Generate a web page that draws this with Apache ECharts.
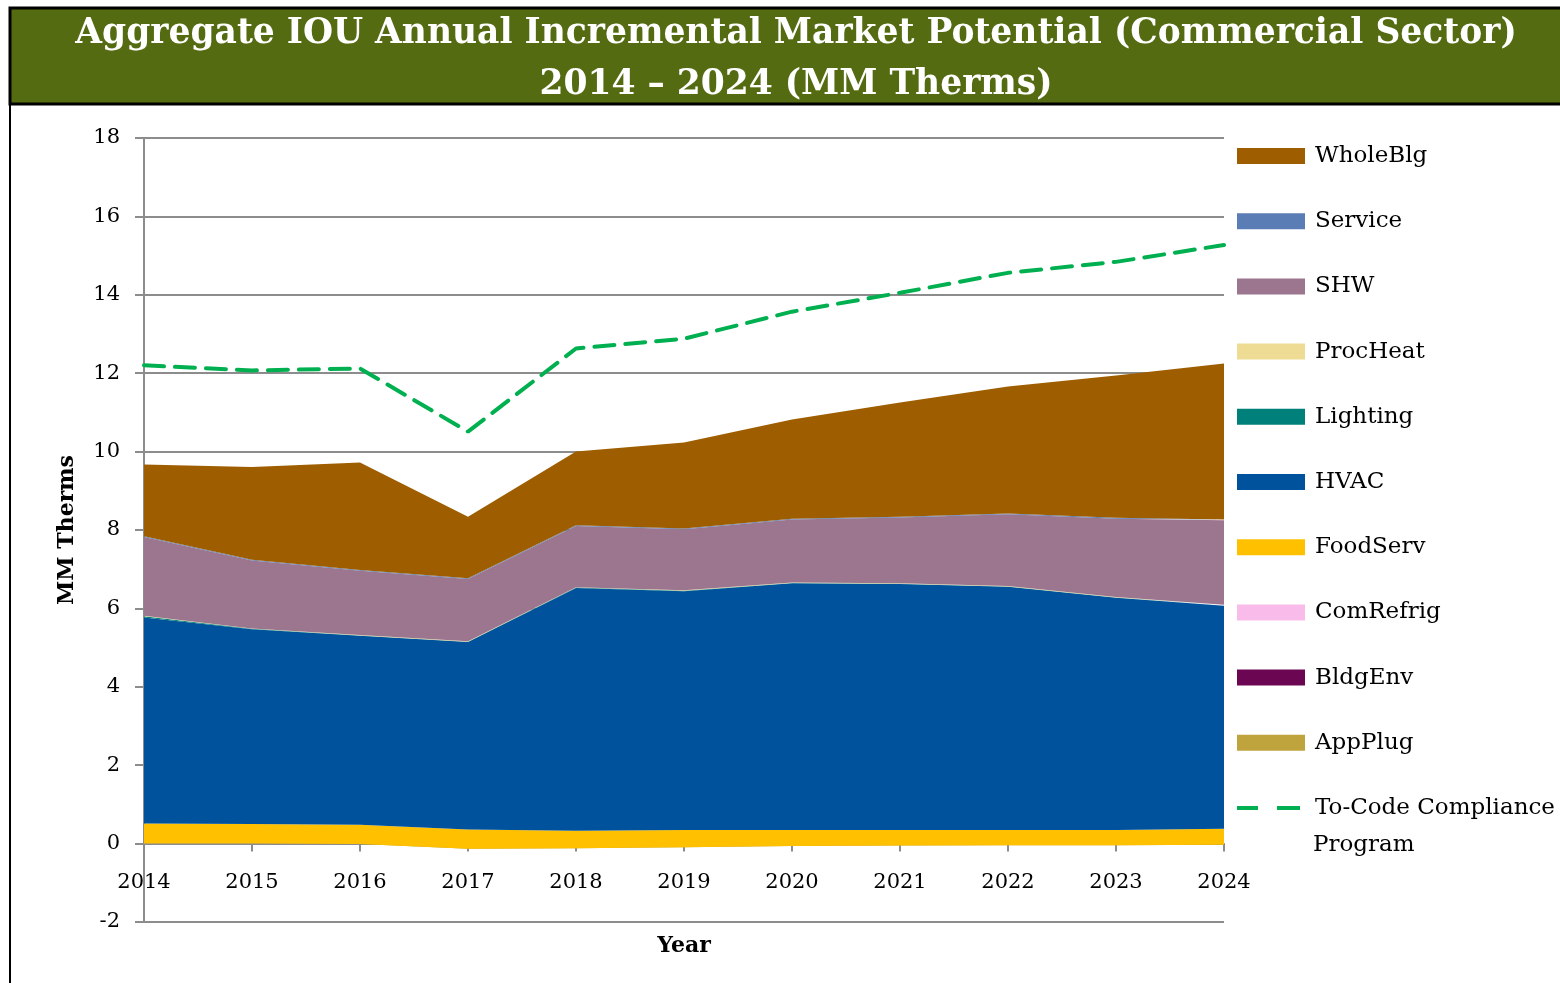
<!DOCTYPE html>
<html>
<head>
<meta charset="utf-8">
<title>Aggregate IOU Annual Incremental Market Potential</title>
<script src="https://cdn.jsdelivr.net/npm/echarts@6/dist/echarts.min.js"></script>
<style>
  html, body { margin: 0; padding: 0; background: #fff; }
  #chart { width: 1560px; height: 983px; }
</style>
</head>
<body>
<div id="chart"></div>
<script>
const years = ['2014', '2015', '2016', '2017', '2018', '2019', '2020', '2021', '2022', '2023', '2024'];

// stacked end uses, bottom to top (MM Therms)
const appPlug   = [0, 0, -0.01, -0.13, -0.12, -0.09, -0.06, -0.05, -0.04, -0.04, -0.03];
const bldgEnv   = [0, 0, 0, 0, 0, 0, 0, 0, 0, 0, 0];
const comRefrig = [0, 0, 0, 0, 0, 0, 0, 0, 0, 0, 0];
const foodServ  = [0.51, 0.50, 0.49, 0.49, 0.45, 0.44, 0.41, 0.40, 0.39, 0.39, 0.41];
const hvac      = [5.26, 4.97, 4.82, 4.78, 6.19, 6.09, 6.29, 6.27, 6.20, 5.92, 5.69];
const lighting  = [0.03, 0.01, 0.01, 0.01, 0.01, 0.01, 0.01, 0.01, 0.01, 0.01, 0.01];
const procHeat  = [0.01, 0.01, 0.01, 0.01, 0.01, 0.01, 0.01, 0.01, 0.01, 0.01, 0.01];
const shw       = [2.01, 1.73, 1.64, 1.59, 1.56, 1.56, 1.61, 1.68, 1.83, 2.00, 2.16];
const service   = [0.02, 0.02, 0.02, 0.02, 0.02, 0.02, 0.02, 0.02, 0.02, 0.02, 0.02];
const wholeBlg  = [1.83, 2.37, 2.74, 1.57, 1.88, 2.19, 2.53, 2.91, 3.24, 3.63, 3.98];

// not stacked
const toCode = [12.20, 12.07, 12.12, 10.51, 12.63, 12.88, 13.57, 14.05, 14.56, 14.84, 15.27];

const yTicks = [-2, 0, 2, 4, 6, 8, 10, 12, 14, 16, 18];

const FONT = 'DejaVu Serif';
const TO_CODE = 'To-Code Compliance Program';

const areaDefs = [
    ['AppPlug', appPlug, '#BFA33C'],
    ['BldgEnv', bldgEnv, '#6B0752'],
    ['ComRefrig', comRefrig, '#F8BBEA'],
    ['FoodServ', foodServ, '#FFC000'],
    ['HVAC', hvac, '#00529C'],
    ['Lighting', lighting, '#00807A'],
    ['ProcHeat', procHeat, '#EEDB94'],
    ['SHW', shw, '#9C758E'],
    ['Service', service, '#5B7DB5'],
    ['WholeBlg', wholeBlg, '#9E5E00']
];

const chart = echarts.init(document.getElementById('chart'));

const series = areaDefs.map(([name, data, color]) => ({
    name: name,
    type: 'line',
    stack: 'total',
    stackStrategy: 'all',
    data: data,
    color: color,
    symbol: 'none',
    lineStyle: { width: 0 },
    areaStyle: { color: color, opacity: 1 },
    emphasis: { disabled: true }
}));

series.push({
    name: TO_CODE,
    type: 'line',
    data: toCode,
    color: '#00B050',
    symbol: 'none',
    z: 5,
    lineStyle: { color: '#00B050', width: 4, type: [20, 11], cap: 'round' },
    emphasis: { disabled: true }
});

// two dashes, with invisible corner dots to keep the icon box at full size
const dashIcon = 'path://M0,6H21V10H0Z M40,6H63V10H40Z M0,0h0.01v0.01h-0.01Z M67.99,15.99h0.01v0.01h-0.01Z';

const legendData = areaDefs.slice().reverse().map(([name]) => ({ name: name, icon: 'rect' }));
legendData.push({ name: TO_CODE, icon: dashIcon });

const option = {
    backgroundColor: '#fff',
    animation: false,
    title: {
        text: 'Aggregate IOU Annual Incremental Market Potential (Commercial Sector)\n2014 \u2013 2024 (MM Therms)',
        left: 791,
        top: 4,
        textAlign: 'center',
        textStyle: {
            color: '#fff',
            fontFamily: FONT,
            fontWeight: 'bold',
            fontSize: 34.5,
            lineHeight: 51
        }
    },
    graphic: [
        {
            type: 'rect',
            shape: { x: 10, y: 8, width: 1560, height: 96 },
            style: { fill: '#556B12', stroke: '#000', lineWidth: 3 },
            z: -1
        },
        {
            type: 'line',
            shape: { x1: 10, y1: 104, x2: 10, y2: 983 },
            style: { stroke: '#000', lineWidth: 2 }
        },
        {
            type: 'text',
            left: 1313,
            top: 834,
            style: { text: 'Program', fontFamily: FONT, fontSize: 23, fill: '#000' }
        }
    ],
    legend: {
        orient: 'vertical',
        left: 1237,
        top: 143,
        padding: 0,
        itemWidth: 68,
        itemHeight: 16,
        itemGap: 39.2,
        data: legendData,
        formatter: name => name === TO_CODE ? 'To-Code Compliance' : name,
        itemStyle: { borderWidth: 0 },
        textStyle: { fontFamily: FONT, fontSize: 23, color: '#000', lineHeight: 26, padding: [0, 0, 0, 5] },
        selectedMode: false
    },
    grid: { left: 144, right: 336, top: 138, bottom: 61, outerBoundsMode: 'none', containLabel: false },
    xAxis: {
        type: 'category',
        data: years,
        boundaryGap: false,
        name: 'Year',
        nameLocation: 'middle',
        nameGap: 13,
        nameTextStyle: { fontFamily: FONT, fontWeight: 'bold', fontSize: 22, color: '#000' },
        axisLine: { onZero: true, lineStyle: { color: '#8c8c8c', width: 2 } },
        axisTick: { show: true, length: 8, lineStyle: { color: '#8c8c8c', width: 2 } },
        axisLabel: { fontFamily: FONT, fontSize: 21, color: '#000', margin: -50 },
        splitLine: { show: false }
    },
    yAxis: {
        type: 'value',
        min: yTicks[0],
        max: yTicks[yTicks.length - 1],
        interval: 2,
        name: 'MM Therms',
        nameLocation: 'middle',
        nameGap: 66,
        nameTextStyle: { fontFamily: FONT, fontWeight: 'bold', fontSize: 22, color: '#000' },
        axisLine: { show: true, lineStyle: { color: '#8c8c8c', width: 2 } },
        axisTick: { show: true, length: 9, lineStyle: { color: '#8c8c8c', width: 2 } },
        axisLabel: { fontFamily: FONT, fontSize: 21, color: '#000', margin: 24 },
        splitLine: { show: true, lineStyle: { color: '#8c8c8c', width: 2 } }
    },
    series: series
};

chart.setOption(option);
</script>
</body>
</html>
